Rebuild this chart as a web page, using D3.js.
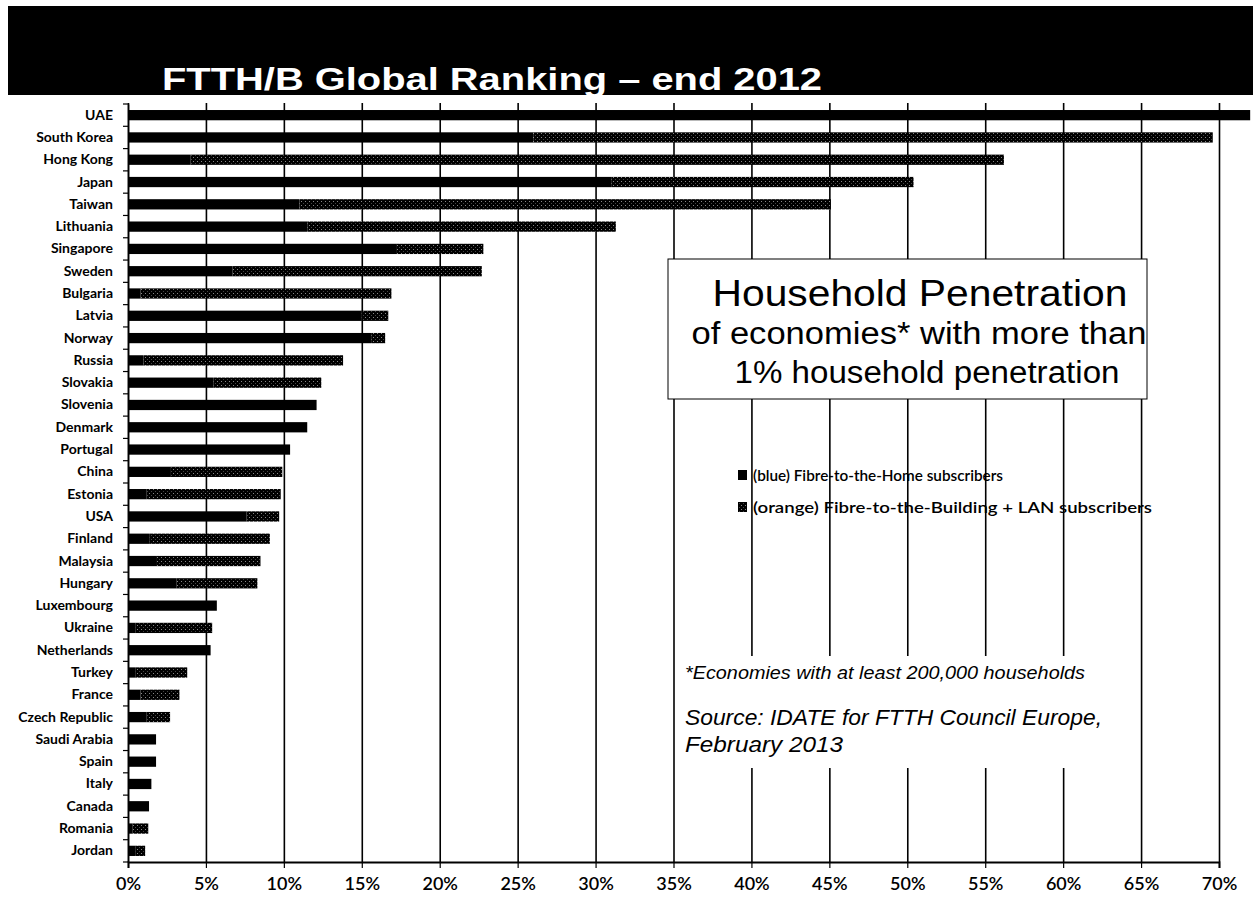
<!DOCTYPE html>
<html>
<head>
<meta charset="utf-8">
<style>
    body { margin: 0; background: #fff; }
    svg { display: block; }
    .y .domain { stroke: #000; stroke-width: 1.5; }
    .y .tick text { font-family: Lato, "Open Sans", sans-serif; font-weight: 700; font-size: 14px; fill: #000; }
    .x .domain { stroke: #000; stroke-width: 2; }
    .x .tick line { stroke: #000; stroke-width: 1.2; }
    .x .tick text { font-family: Lato, "Open Sans", sans-serif; font-size: 18px; font-weight: 600; fill: #000; }
    .grid .domain { display: none; }
    .grid .tick line { stroke: #000; stroke-width: 1.6; }
    .legend { font-family: Lato, "Open Sans", sans-serif; font-size: 16px; font-weight: 600; fill: #000; }
    .note { font-family: "Liberation Sans", Arial, sans-serif; font-style: italic; fill: #000; }
</style>
</head>
<body>
<svg width="1253" height="898"></svg>

<script src="https://cdnjs.cloudflare.com/ajax/libs/d3/7.8.5/d3.min.js"></script>
<script>
    // countries, top to bottom
    let countries = ["UAE", "South Korea", "Hong Kong", "Japan", "Taiwan", "Lithuania", "Singapore",
        "Sweden", "Bulgaria", "Latvia", "Norway", "Russia", "Slovakia", "Slovenia", "Denmark",
        "Portugal", "China", "Estonia", "USA", "Finland", "Malaysia", "Hungary", "Luxembourg",
        "Ukraine", "Netherlands", "Turkey", "France", "Czech Republic", "Saudi Arabia", "Spain",
        "Italy", "Canada", "Romania", "Jordan"];

    // Fibre-to-the-Home (%)
    let ftth = [72, 26, 4, 31, 11, 11.5, 17.2,
        6.7, 0.8, 15, 15.6, 1, 5.5, 12.1, 11.5,
        10.4, 2.7, 1.2, 7.6, 1.4, 1.8, 3.1, 5.7,
        0.5, 5.3, 0.5, 0.8, 1.2, 1.8, 1.8,
        1.5, 1.35, 0.3, 0.5];

    // Fibre-to-the-Building + LAN (%)
    let fttb = [0, 43.6, 52.2, 19.4, 34.1, 19.8, 5.6,
        16, 16.1, 1.7, 0.9, 12.8, 6.9, 0, 0,
        0, 7.2, 8.6, 2.1, 7.7, 6.7, 5.2, 0,
        4.9, 0, 3.3, 2.5, 1.5, 0, 0,
        0, 0, 1.0, 0.6];

    let xTicks = [0, 5, 10, 15, 20, 25, 30, 35, 40, 45, 50, 55, 60, 65, 70];

    let width = 1253;
    let height = 898;
    let margin = { top: 104, right: 34, bottom: 36, left: 128 };

    let svg = d3.select("svg");

    // dithered fill for the FTTB part (the scan is black & white)
    let defs = svg.append("defs");
    let pat = defs.append("pattern")
        .attr("id", "dither")
        .attr("width", 4)
        .attr("height", 4)
        .attr("patternUnits", "userSpaceOnUse");
    pat.append("rect").attr("width", 4).attr("height", 4).attr("fill", "#000");
    pat.append("rect").attr("x", 1).attr("y", 1).attr("width", 1).attr("height", 1).attr("fill", "#888");
    pat.append("rect").attr("x", 3).attr("y", 3).attr("width", 1).attr("height", 1).attr("fill", "#444");

    // title bar
    svg.append("rect")
        .attr("x", 8).attr("y", 6)
        .attr("width", width - 8).attr("height", 89)
        .attr("fill", "#000");

    svg.append("text")
        .attr("x", 162).attr("y", 90)
        .attr("textLength", 660)
        .attr("lengthAdjust", "spacingAndGlyphs")
        .style("font-family", "'Liberation Sans', Arial, sans-serif")
        .style("font-size", "31px")
        .style("font-weight", "bold")
        .style("fill", "#fff")
        .text("FTTH/B Global Ranking – end 2012");

    let x = d3.scaleLinear()
        .domain([0, 70])
        .range([margin.left, 1219]);

    let y = d3.scaleBand()
        .domain(countries)
        .range([margin.top, height - margin.bottom])
        .paddingInner(0.54)
        .paddingOuter(0.27);

    // vertical gridlines
    svg.append("g")
        .attr("class", "grid")
        .attr("transform", `translate(0,${height - margin.bottom})`)
        .call(d3.axisBottom(x)
            .tickValues(xTicks)
            .tickSize(-(height - margin.bottom - margin.top + 1))
            .tickFormat(""));

    // stacked bars
    let bars = svg.append("g");

    bars.selectAll("rect.ftth")
        .data(countries)
        .join("rect")
        .attr("class", "ftth")
        .attr("x", x(0))
        .attr("y", d => y(d))
        .attr("width", (d, i) => x(ftth[i]) - x(0))
        .attr("height", y.bandwidth())
        .attr("fill", "#000");

    bars.selectAll("rect.fttb")
        .data(countries)
        .join("rect")
        .attr("class", "fttb")
        .attr("x", (d, i) => x(ftth[i]))
        .attr("y", d => y(d))
        .attr("width", (d, i) => x(ftth[i] + fttb[i]) - x(ftth[i]))
        .attr("height", y.bandwidth())
        .attr("fill", "url(#dither)");

    // x axis
    svg.append("g")
        .attr("class", "x axis")
        .attr("transform", `translate(0,${height - margin.bottom})`)
        .call(d3.axisBottom(x)
            .tickValues(xTicks)
            .tickSize(6)
            .tickPadding(9)
            .tickFormat(d => d + "%"));

    // y axis with labels
    svg.append("g")
        .attr("class", "y axis")
        .attr("transform", `translate(${margin.left},0)`)
        .call(d3.axisLeft(y).tickSize(0).tickPadding(15));

    // small ticks between categories
    let step = y.step();
    svg.append("g")
        .selectAll("line")
        .data(d3.range(countries.length + 1))
        .join("line")
        .attr("x1", margin.left - 5)
        .attr("x2", margin.left)
        .attr("y1", i => margin.top + i * step)
        .attr("y2", i => margin.top + i * step)
        .style("stroke", "#000")
        .style("stroke-width", 1.2);

    // info box
    svg.append("rect")
        .attr("x", 668).attr("y", 259)
        .attr("width", 479).attr("height", 140)
        .attr("fill", "#fff")
        .attr("stroke", "#000")
        .attr("stroke-width", 1);

    let boxText = svg.append("g")
        .style("font-family", "'Liberation Sans', Arial, sans-serif")
        .style("text-anchor", "middle")
        .style("fill", "#000");

    boxText.append("text")
        .attr("x", 920).attr("y", 306)
        .attr("textLength", 415)
        .attr("lengthAdjust", "spacingAndGlyphs")
        .style("font-size", "36px")
        .style("font-weight", "500")
        .text("Household  Penetration");

    boxText.append("text")
        .attr("x", 919).attr("y", 344)
        .attr("textLength", 455)
        .attr("lengthAdjust", "spacingAndGlyphs")
        .style("font-size", "31px")
        .text("of economies* with more than");

    boxText.append("text")
        .attr("x", 927).attr("y", 383)
        .attr("textLength", 385)
        .attr("lengthAdjust", "spacingAndGlyphs")
        .style("font-size", "31px")
        .text("1% household penetration");

    // legend
    svg.append("rect")
        .attr("x", 738).attr("y", 470)
        .attr("width", 9).attr("height", 10)
        .attr("fill", "#000");
    svg.append("text")
        .attr("class", "legend")
        .attr("x", 753).attr("y", 481)
        .attr("textLength", 250)
        .attr("lengthAdjust", "spacingAndGlyphs")
        .text("(blue) Fibre-to-the-Home subscribers");

    svg.append("rect")
        .attr("x", 738).attr("y", 502)
        .attr("width", 9).attr("height", 10)
        .attr("fill", "url(#dither)");
    svg.append("text")
        .attr("class", "legend")
        .attr("x", 753).attr("y", 513)
        .attr("textLength", 399)
        .attr("lengthAdjust", "spacingAndGlyphs")
        .text("(orange) Fibre-to-the-Building + LAN subscribers");

    // notes
    svg.append("rect")
        .attr("x", 676).attr("y", 656)
        .attr("width", 440).attr("height", 112)
        .attr("fill", "#fff");

    svg.append("text")
        .attr("class", "note")
        .attr("x", 685).attr("y", 679)
        .attr("textLength", 400)
        .attr("lengthAdjust", "spacingAndGlyphs")
        .style("font-size", "19px")
        .text("*Economies with at least 200,000 households");

    svg.append("text")
        .attr("class", "note")
        .attr("x", 685).attr("y", 725)
        .attr("textLength", 417)
        .attr("lengthAdjust", "spacingAndGlyphs")
        .style("font-size", "22px")
        .style("font-weight", "500")
        .text("Source: IDATE for FTTH Council Europe,");

    svg.append("text")
        .attr("class", "note")
        .attr("x", 685).attr("y", 752)
        .attr("textLength", 158)
        .attr("lengthAdjust", "spacingAndGlyphs")
        .style("font-size", "22px")
        .text("February 2013");
</script>
</body>
</html>
